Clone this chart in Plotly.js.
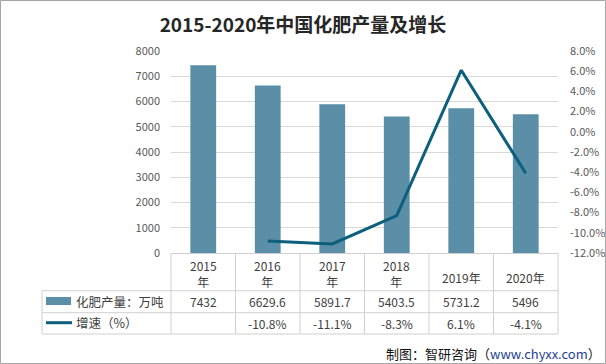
<!DOCTYPE html>
<html>
<head>
<meta charset="utf-8">
<script src="https://cdn.plot.ly/plotly-3.0.1.min.js"></script>
<style>
html,body{margin:0;padding:0;background:#fff;}
#chart{width:606px;height:364px;}
</style>
</head>
<body>
<div id="chart"></div>
<script>
// ---- data ----
var years = ["2015", "2016", "2017", "2018", "2019", "2020"];
var headerLabels = ["2015<br>年", "2016<br>年", "2017<br>年", "2018<br>年", "2019年", "2020年"];
var output = [7432, 6629.6, 5891.7, 5403.5, 5731.2, 5496];
var outputText = ["7432", "6629.6", "5891.7", "5403.5", "5731.2", "5496"];
var growth = [null, -10.8, -11.1, -8.3, 6.1, -4.1];
var growthText = ["", "-10.8%", "-11.1%", "-8.3%", "6.1%", "-4.1%"];
var seriesNames = ["化肥产量：万吨", "增速（%）"];
var leftTicks = [0, 1000, 2000, 3000, 4000, 5000, 6000, 7000, 8000];
var rightTicks = [-12, -10, -8, -6, -4, -2, 0, 2, 4, 6, 8];

// ---- layout geometry (pixels) ----
var W = 606, H = 364;
var L = 171, R = 558, T = 51, B = 253;
var pw = R - L, ph = B - T;
function px(x) { return (x - L) / pw; }
function py(y) { return (B - y) / ph; }

var barColor = "#5b8fa7";
var lineColor = "#0d5f7b";
var gridColor = "#d9d9d9";
var tableColor = "#d0d0d0";
var txtColor = "#404040";
var font = "'Microsoft YaHei','Noto Sans CJK SC','Noto Sans',sans-serif";

var traces = [
  {
    type: "bar", x: years, y: output, name: seriesNames[0],
    marker: {color: barColor}, width: 0.4, yaxis: "y", hoverinfo: "none"
  },
  {
    type: "scatter", mode: "lines", x: years, y: growth, name: seriesNames[1],
    line: {color: lineColor, width: 3}, yaxis: "y2", connectgaps: false, hoverinfo: "none"
  }
];

var shapes = [];
var annotations = [];

// table grid
var rowY = [B, 290.7, 312.7, 334];
var colW = pw / years.length;
for (var i = 1; i < rowY.length; i++) {
  shapes.push({type: "line", xref: "paper", yref: "paper",
    x0: px(42), x1: px(R), y0: py(rowY[i]), y1: py(rowY[i]),
    line: {color: tableColor, width: 1}});
}
for (var c = 0; c <= years.length; c++) {
  var xx = L + c * colW;
  shapes.push({type: "line", xref: "paper", yref: "paper",
    x0: px(xx), x1: px(xx), y0: py(B), y1: py(rowY[3]),
    line: {color: tableColor, width: 1}});
}
shapes.push({type: "line", xref: "paper", yref: "paper",
  x0: px(42), x1: px(42), y0: py(rowY[1]), y1: py(rowY[3]),
  line: {color: tableColor, width: 1}});
// legend keys
shapes.push({type: "rect", xref: "paper", yref: "paper",
  x0: px(46), x1: px(71), y0: py(305), y1: py(297),
  fillcolor: barColor, line: {width: 0}});
shapes.push({type: "line", xref: "paper", yref: "paper",
  x0: px(46), x1: px(72), y0: py(322.7), y1: py(322.7),
  line: {color: lineColor, width: 3}});

// table cells
for (var k = 0; k < years.length; k++) {
  var cx = px(L + (k + 0.5) * colW);
  var twoLine = headerLabels[k].indexOf("<br>") >= 0;
  annotations.push({xref: "paper", yref: "paper", x: cx, y: py(twoLine ? 273 : 277),
    text: headerLabels[k], showarrow: false, xanchor: "center", yanchor: "middle",
    font: {family: font, size: 12, color: txtColor}});
  if (outputText[k]) annotations.push({xref: "paper", yref: "paper", x: cx, y: py(301.7),
    text: outputText[k], showarrow: false, xanchor: "center", yanchor: "middle",
    font: {family: font, size: 12, color: txtColor}});
  if (growthText[k]) annotations.push({xref: "paper", yref: "paper", x: cx, y: py(323.4),
    text: growthText[k], showarrow: false, xanchor: "center", yanchor: "middle",
    font: {family: font, size: 12, color: txtColor}});
}
annotations.push({xref: "paper", yref: "paper", x: px(74), y: py(301.7),
  text: seriesNames[0], showarrow: false, xanchor: "left", yanchor: "middle",
  font: {family: font, size: 12.5, color: txtColor}});
annotations.push({xref: "paper", yref: "paper", x: px(74), y: py(322.7),
  text: seriesNames[1], showarrow: false, xanchor: "left", yanchor: "middle",
  font: {family: font, size: 12.5, color: txtColor}});

// footer
annotations.push({xref: "paper", yref: "paper", x: px(603), y: py(353),
  text: "制图：智研咨询（<span style='color:#1f3f8f'>www.chyxx.com</span>）",
  showarrow: false, xanchor: "right", yanchor: "middle",
  font: {family: font, size: 13, color: "#111"}});

// outer border
shapes.push({type: "rect", xref: "paper", yref: "paper",
  x0: px(0.5), x1: px(605.5), y0: py(0.5), y1: py(363.5),
  line: {color: "#a6a6a6", width: 1}, fillcolor: "rgba(0,0,0,0)"});

var layout = {
  width: W, height: H,
  margin: {l: L, r: W - R, t: T, b: H - B, pad: 0},
  paper_bgcolor: "#fff", plot_bgcolor: "#fff",
  showlegend: false,
  title: {text: "<b>2015-2020年中国化肥产量及增长</b>", x: 0.5, xanchor: "center",
    y: 1 - 25 / H, yanchor: "middle",
    font: {family: font, size: 19, color: "#262626"}},
  xaxis: {type: "category", showticklabels: false, ticks: "", showgrid: false,
    zeroline: false, showline: true, linecolor: tableColor, linewidth: 1,
    range: [-0.5, 5.5], fixedrange: true},
  yaxis: {range: [0, 8000], tickvals: leftTicks, ticktext: leftTicks.map(String),
    showgrid: true, gridcolor: gridColor, gridwidth: 1, zeroline: false,
    ticks: "", ticklen: 0, showline: false, ticklabelstandoff: 10,
    tickfont: {family: font, size: 11, color: "#595959"}, automargin: false},
  yaxis2: {range: [-12, 8], overlaying: "y", side: "right",
    tickvals: rightTicks, ticktext: rightTicks.map(function(v){return v.toFixed(1) + "%";}),
    showgrid: false, zeroline: false, ticks: "", showline: false, ticklabelstandoff: 11,
    tickfont: {family: font, size: 11, color: "#595959"}, automargin: false},
  bargap: 0.6,
  shapes: shapes,
  annotations: annotations
};

Plotly.newPlot("chart", traces, layout, {displayModeBar: false, staticPlot: true});
</script>
</body>
</html>
